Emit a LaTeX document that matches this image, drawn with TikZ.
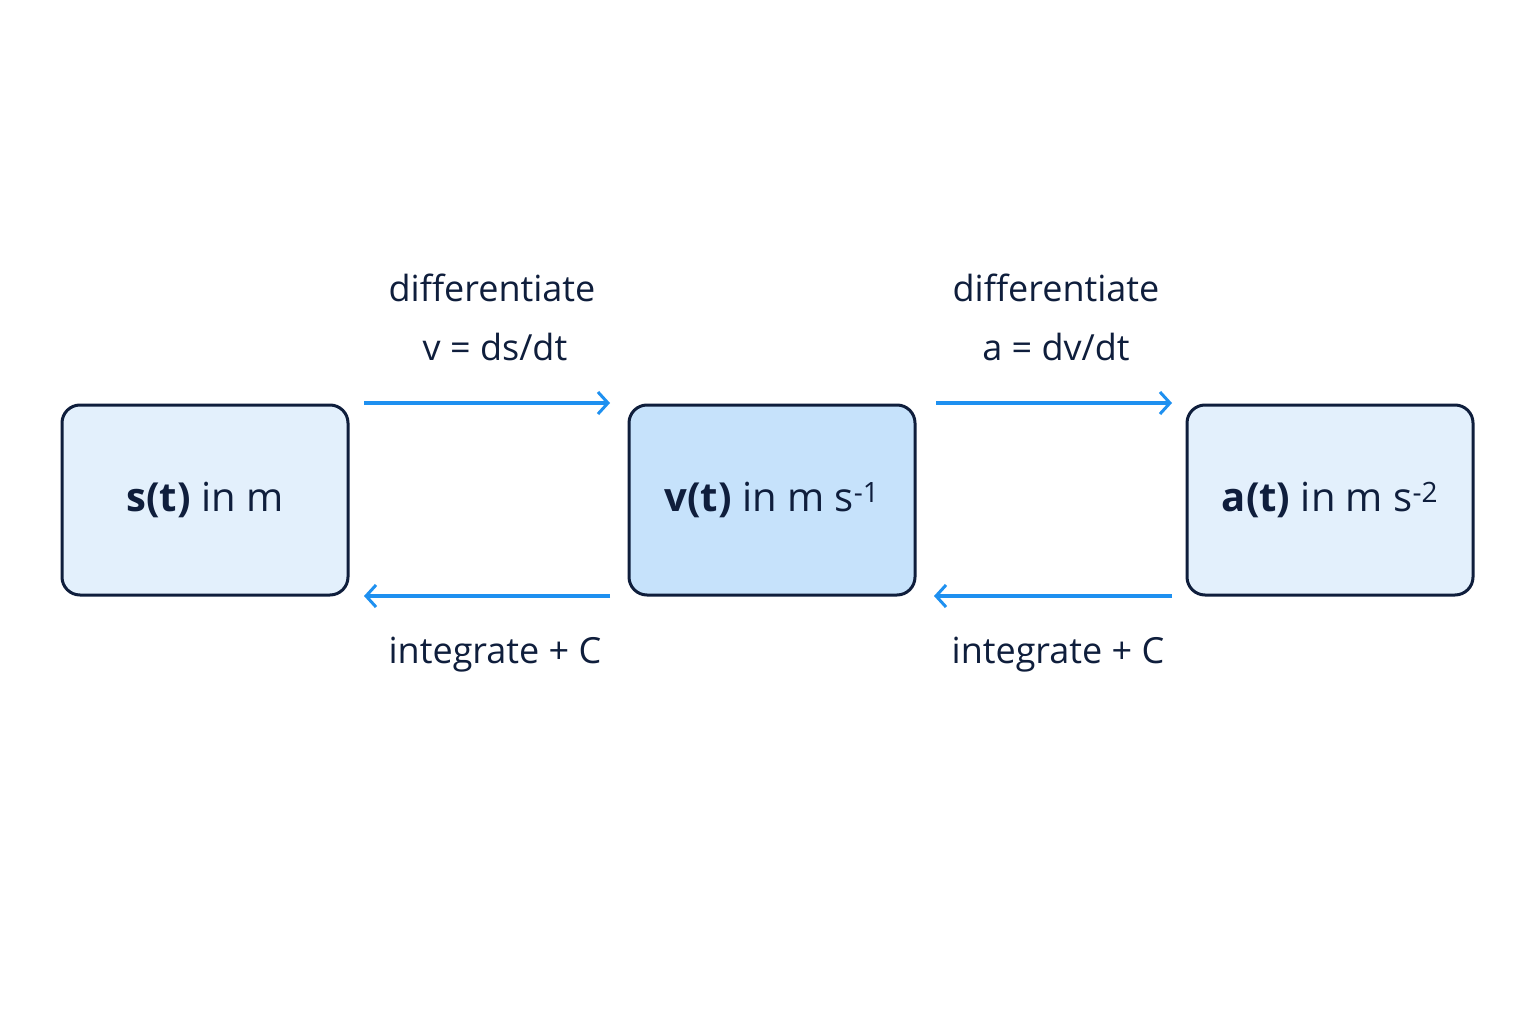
\documentclass[tikz,border=0pt]{standalone}
\usepackage{fontspec}
\setmainfont{Open Sans}
\usetikzlibrary{arrows.meta,calc}
\definecolor{navy}{HTML}{0F1E3C}
\definecolor{lite}{HTML}{E3F0FC}
\definecolor{mid}{HTML}{C6E2FB}
\definecolor{arr}{HTML}{1E90F0}
\begin{document}
\begin{tikzpicture}[x=1pt,y=-1pt,
 box/.style={draw=navy,line width=3pt,rounded corners=18pt,minimum width=286pt,minimum height=190pt,inner sep=0pt,font=\fontsize{40}{48}\selectfont,text=navy},
 con/.style={draw=arr,line width=3.5pt,-{Straight Barb[length=10pt,width=22pt,line width=3pt]}},
 lab/.style={font=\fontsize{36}{44}\selectfont,text=navy,align=center}]
\useasboundingbox[fill=white] (0,0) rectangle (1536,1024);
\node[box,fill=lite] (s) at (205,500) {\textbf{s(t)} in m};
\node[box,fill=mid] (v) at (772,500) {\textbf{v(t)} in m s\textsuperscript{-1}};
\node[box,fill=lite] (a) at (1330,500) {\textbf{a(t)} in m s\textsuperscript{-2}};
\coordinate (t1a) at (364,403); \coordinate (t1b) at (610,403);
\coordinate (t2a) at (936,403); \coordinate (t2b) at (1172,403);
\coordinate (b1a) at (610,596); \coordinate (b1b) at (364,596);
\coordinate (b2a) at (1172,596); \coordinate (b2b) at (934,596);
\draw[con] (t1a) -- (t1b);
\draw[con] (t2a) -- (t2b);
\draw[con] (b1a) -- (b1b);
\draw[con] (b2a) -- (b2b);
\node[lab] (l1) at (492,288) {differentiate};
\node[lab] (l2) at (495,347) {v = ds/dt};
\node[lab] (l3) at (1056,288) {differentiate};
\node[lab] (l4) at (1056,347) {a = dv/dt};
\node[lab] (l5) at (495,655) {integrate + C};
\node[lab] (l6) at (1058,655) {integrate + C};
\end{tikzpicture}
\end{document}
